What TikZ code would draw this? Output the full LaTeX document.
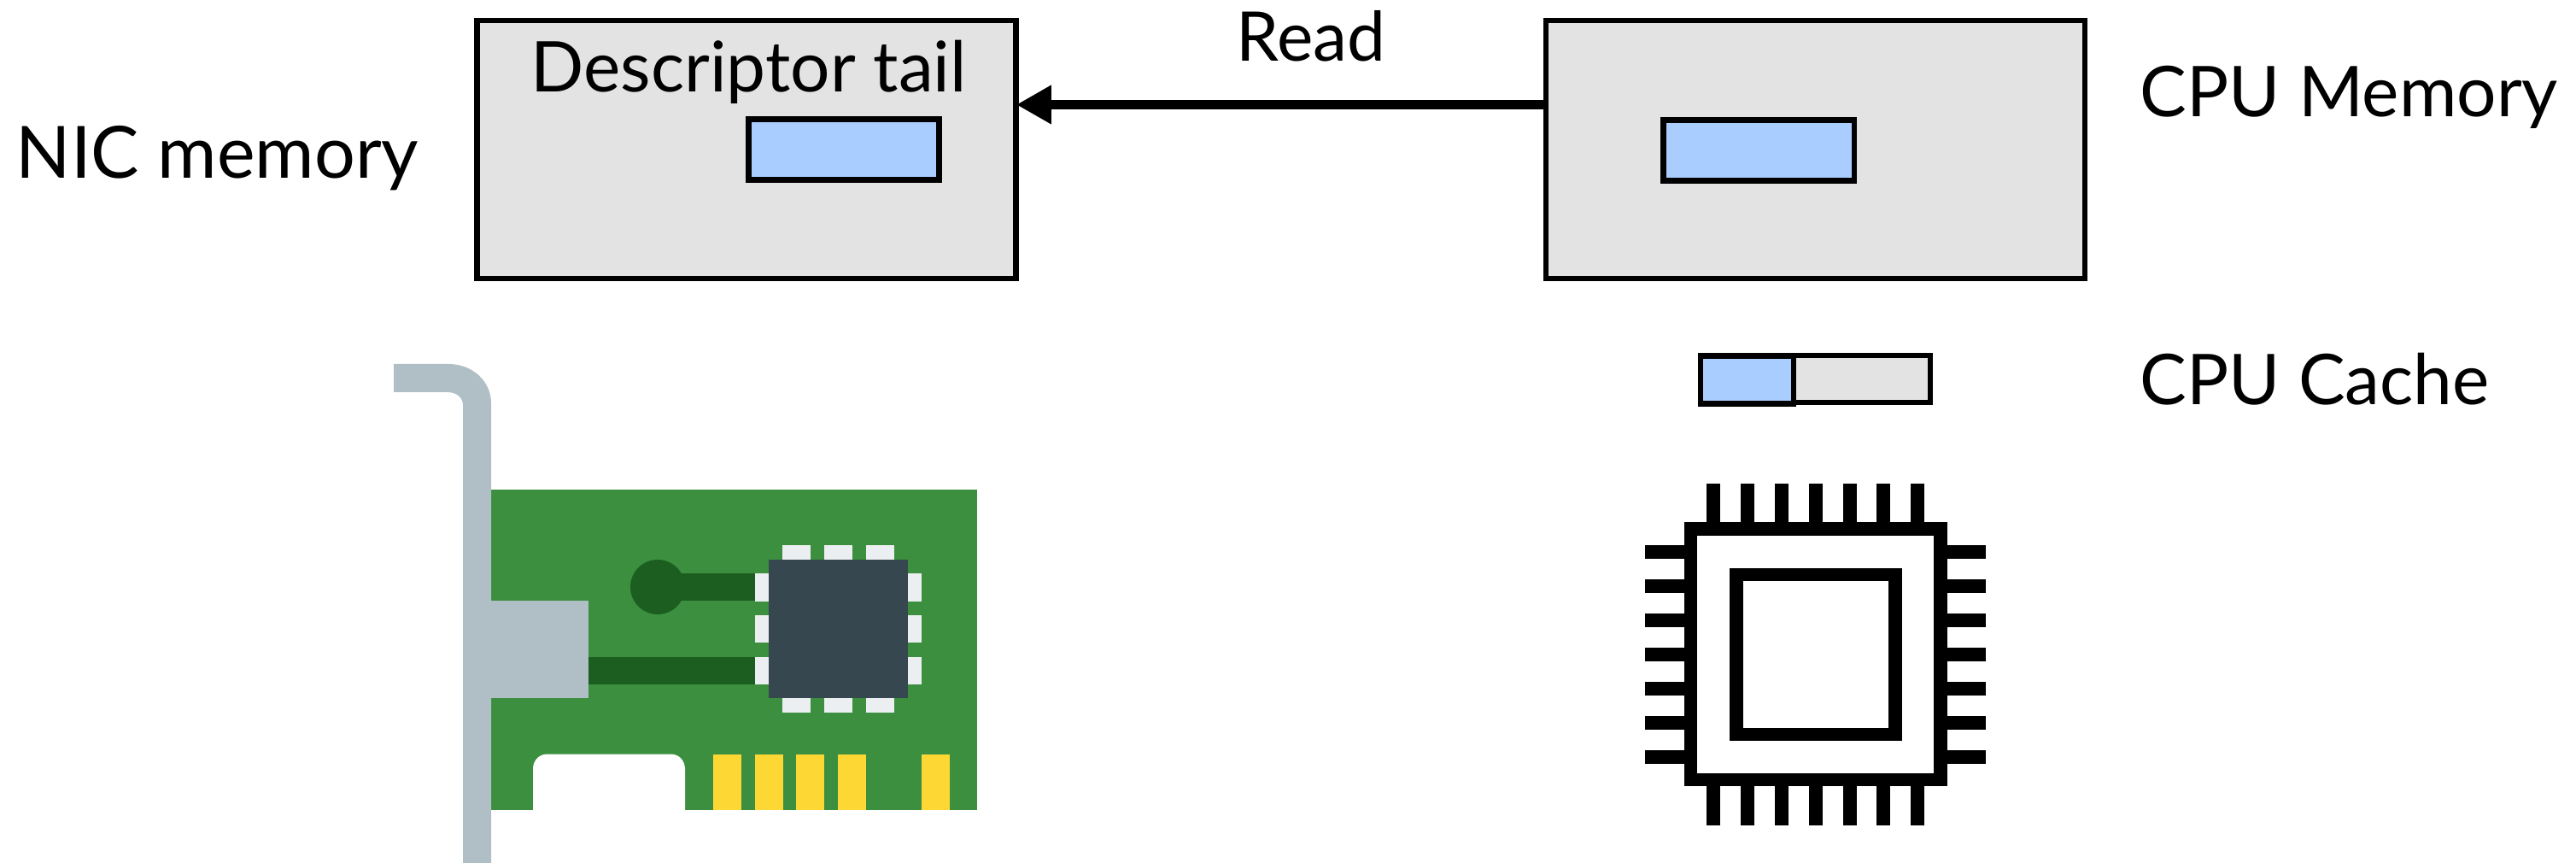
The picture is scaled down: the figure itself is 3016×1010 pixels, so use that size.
\documentclass[tikz,border=0pt]{standalone}
\usepackage{fontspec}
\setmainfont{Lato}
\usetikzlibrary{positioning,arrows.meta}
\definecolor{memgray}{HTML}{E3E3E3}
\definecolor{entryblue}{HTML}{A9CDFE}
\definecolor{boardgreen}{HTML}{3B8F3F}
\definecolor{tracegreen}{HTML}{1B5E20}
\definecolor{bracketgray}{HTML}{B0BEC5}
\definecolor{chipdark}{HTML}{37474F}
\definecolor{padlight}{HTML}{ECEFF1}
\definecolor{pinyellow}{HTML}{FDD835}
\tikzstyle{membox} = [rectangle, minimum width=6.31cm, minimum height=3.02cm, inner sep=0pt, fill=memgray, draw=black, line width=0.65mm]
\tikzstyle{entry} = [rectangle, minimum width=2.23cm, minimum height=0.71cm, inner sep=0pt, fill=entryblue, draw=black, line width=0.62mm]
\tikzstyle{caption} = [anchor=base west, inner sep=0pt, font=\fontsize{23.3}{28}\selectfont]
\tikzstyle{arrow} = [line width=1.15mm,shorten >=-0.03cm,-{Triangle[length=4.1mm,width=4.3mm]}]
\tikzstyle{cpuline} = [draw=black, line width=1.55mm]
\begin{document}
\begin{tikzpicture}[x=0.01cm,y=-0.01cm]
	\useasboundingbox (0,0) rectangle (3016,1010);
	\node (nicmem) at (874,175) [membox] {};
	\node (cpumem) at (2125.5,175) [membox] {};
	\node (nicentry) at (988,175) [entry] {};
	\node (cpuentry) at (2059,176) [entry] {};
	\node (cacheline) at (2125.5,443.5) [entry, minimum width=2.69cm, minimum height=0.545cm, fill=memgray] {};
	\node (cacheentry) at (2045.5,444.5) [entry, minimum width=1.09cm, minimum height=0.56cm] {};
	\node (tail) at (621,108) [caption] {Descriptor tail};
	\node (read) at (1447,72) [caption, font=\fontsize{22.8}{27}\selectfont] {Read};
	\node (nicname) at (18,209) [caption, font=\fontsize{24}{28}\selectfont] {NIC memory};
	\node (cpuname) at (2505,137) [caption] {CPU Memory};
	\node (cachename) at (2505,474) [caption] {CPU Cache};
	\coordinate (readlevel) at (1500,122.5);
	\draw[arrow] (readlevel -| cpumem.west) -- (readlevel -| nicmem.east);
	% network card
	\fill[boardgreen] (575,573) rectangle (1144,947.5);
	\fill[white] (624,948) -- (624,900) .. controls (624,890) and (631,882.5) .. (641,882.5) -- (785,882.5) .. controls (795,882.5) and (802,890) .. (802,900) -- (802,948) -- cycle;
	\foreach \x in {835,884,932,981,1079}
		\fill[pinyellow] (\x,882.5) rectangle +(33,65);
	\fill[bracketgray] (461,426) -- (525,426) .. controls (553,426) and (575,446) .. (575,472) -- (575,1010) -- (542,1010) -- (542,474) .. controls (542,465) and (534,459) .. (524,459) -- (461,459) -- cycle;
	\fill[bracketgray] (575,703) rectangle (689,817);
	\fill[tracegreen] (689,768.5) rectangle (884,801);
	\fill[tracegreen] (770,671) rectangle (884,703);
	\fill[tracegreen] (770,687) circle (32);
	\foreach \x in {916,965,1014} {
		\fill[padlight] (\x,638) rectangle +(33,16.5);
		\fill[padlight] (\x,817) rectangle +(33,16.5);
	}
	\foreach \y in {671,719.5,768.5} {
		\fill[padlight] (884,\y) rectangle +(16,32.5);
		\fill[padlight] (1063,\y) rectangle +(16,32.5);
	}
	\fill[chipdark] (900,654.5) rectangle (1063,817);
	% cpu icon
	\draw[cpuline] (1979.5,619) rectangle (2272,912.5);
	\draw[cpuline] (2033,672.7) rectangle (2219,859.5);
	\foreach \i in {0,...,6} {
		\fill (1998.3+39.8*\i,566) rectangle +(16,45.5);
		\fill (1998.3+39.8*\i,920) rectangle +(16,45.5);
		\fill (1926,637.8+40*\i) rectangle +(46,16);
		\fill (2280,637.8+40*\i) rectangle +(45,16);
	}
\end{tikzpicture}
\end{document}
